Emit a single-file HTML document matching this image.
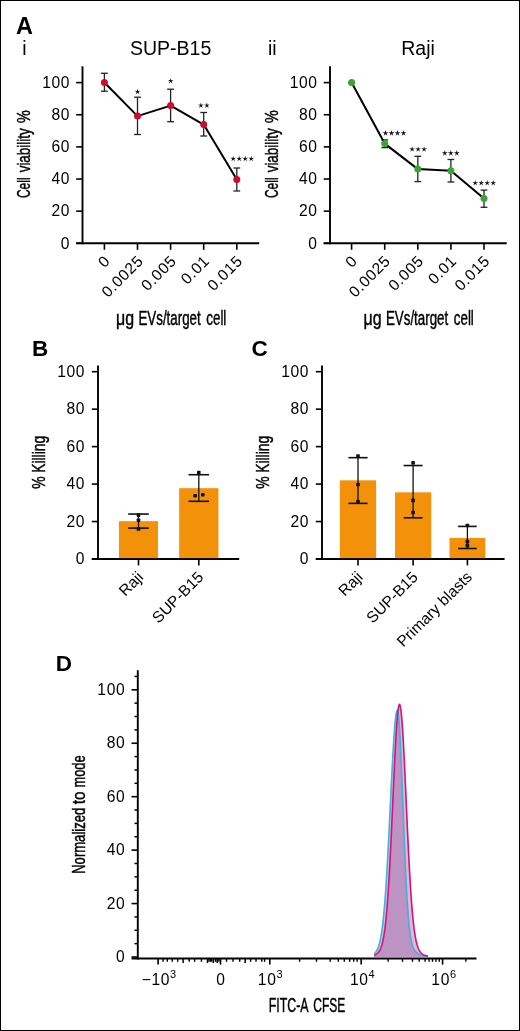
<!DOCTYPE html>
<html><head><meta charset="utf-8"><style>
html,body{margin:0;padding:0;background:#fff;}
.fig{position:relative;width:520px;height:1031px;box-sizing:border-box;border:1px solid #000;background:#fff;overflow:hidden;}
svg{position:absolute;left:-1px;top:-1px;will-change:transform;}
text{font-family:"Liberation Sans", sans-serif;}
</style></head><body><div class="fig">
<svg width="520" height="1031" viewBox="0 0 520 1031">
<text x="15.90" y="33.60" font-size="23.5" text-anchor="start" fill="#000" font-weight="bold" >A</text>
<text x="24.30" y="55.30" font-size="19.5" text-anchor="middle" fill="#000" >i</text>
<text x="170.60" y="55.30" font-size="19.5" text-anchor="middle" fill="#000" >SUP-B15</text>
<text x="272.30" y="55.30" font-size="19.5" text-anchor="middle" fill="#000" >ii</text>
<text x="418.00" y="55.30" font-size="19.5" text-anchor="middle" fill="#000" >Raji</text>
<line x1="82.50" y1="66.30" x2="82.50" y2="244.25" stroke="#000" stroke-width="1.9" stroke-linecap="butt"/>
<line x1="76.20" y1="243.30" x2="259.20" y2="243.30" stroke="#000" stroke-width="1.9" stroke-linecap="butt"/>
<line x1="76.20" y1="243.30" x2="82.50" y2="243.30" stroke="#000" stroke-width="1.6" stroke-linecap="butt"/>
<text x="70.10" y="248.60" font-size="15.6" text-anchor="end" fill="#000" letter-spacing="0.6" >0</text>
<line x1="76.20" y1="211.16" x2="82.50" y2="211.16" stroke="#000" stroke-width="1.6" stroke-linecap="butt"/>
<text x="70.10" y="216.46" font-size="15.6" text-anchor="end" fill="#000" letter-spacing="0.6" >20</text>
<line x1="76.20" y1="179.02" x2="82.50" y2="179.02" stroke="#000" stroke-width="1.6" stroke-linecap="butt"/>
<text x="70.10" y="184.32" font-size="15.6" text-anchor="end" fill="#000" letter-spacing="0.6" >40</text>
<line x1="76.20" y1="146.88" x2="82.50" y2="146.88" stroke="#000" stroke-width="1.6" stroke-linecap="butt"/>
<text x="70.10" y="152.18" font-size="15.6" text-anchor="end" fill="#000" letter-spacing="0.6" >60</text>
<line x1="76.20" y1="114.74" x2="82.50" y2="114.74" stroke="#000" stroke-width="1.6" stroke-linecap="butt"/>
<text x="70.10" y="120.04" font-size="15.6" text-anchor="end" fill="#000" letter-spacing="0.6" >80</text>
<line x1="76.20" y1="82.60" x2="82.50" y2="82.60" stroke="#000" stroke-width="1.6" stroke-linecap="butt"/>
<text x="70.10" y="87.90" font-size="15.6" text-anchor="end" fill="#000" letter-spacing="0.6" >100</text>
<line x1="104.40" y1="243.30" x2="104.40" y2="249.80" stroke="#000" stroke-width="1.6" stroke-linecap="butt"/>
<line x1="137.50" y1="243.30" x2="137.50" y2="249.80" stroke="#000" stroke-width="1.6" stroke-linecap="butt"/>
<line x1="170.60" y1="243.30" x2="170.60" y2="249.80" stroke="#000" stroke-width="1.6" stroke-linecap="butt"/>
<line x1="203.70" y1="243.30" x2="203.70" y2="249.80" stroke="#000" stroke-width="1.6" stroke-linecap="butt"/>
<line x1="236.80" y1="243.30" x2="236.80" y2="249.80" stroke="#000" stroke-width="1.6" stroke-linecap="butt"/>
<text transform="translate(111.10,262.00) rotate(-45)" x="0" y="0" font-size="15.6" text-anchor="end" fill="#000" letter-spacing="0.6" >0</text>
<text transform="translate(144.20,262.00) rotate(-45)" x="0" y="0" font-size="15.6" text-anchor="end" fill="#000" letter-spacing="0.6" >0.0025</text>
<text transform="translate(177.30,262.00) rotate(-45)" x="0" y="0" font-size="15.6" text-anchor="end" fill="#000" letter-spacing="0.6" >0.005</text>
<text transform="translate(210.40,262.00) rotate(-45)" x="0" y="0" font-size="15.6" text-anchor="end" fill="#000" letter-spacing="0.6" >0.01</text>
<text transform="translate(243.50,262.00) rotate(-45)" x="0" y="0" font-size="15.6" text-anchor="end" fill="#000" letter-spacing="0.6" >0.015</text>
<line x1="104.40" y1="73.30" x2="104.40" y2="91.20" stroke="#222" stroke-width="1.3" stroke-linecap="butt"/>
<line x1="101.00" y1="73.30" x2="107.80" y2="73.30" stroke="#222" stroke-width="1.3" stroke-linecap="butt"/>
<line x1="101.00" y1="91.20" x2="107.80" y2="91.20" stroke="#222" stroke-width="1.3" stroke-linecap="butt"/>
<line x1="137.50" y1="97.20" x2="137.50" y2="134.50" stroke="#222" stroke-width="1.3" stroke-linecap="butt"/>
<line x1="134.10" y1="97.20" x2="140.90" y2="97.20" stroke="#222" stroke-width="1.3" stroke-linecap="butt"/>
<line x1="134.10" y1="134.50" x2="140.90" y2="134.50" stroke="#222" stroke-width="1.3" stroke-linecap="butt"/>
<line x1="170.60" y1="89.20" x2="170.60" y2="121.70" stroke="#222" stroke-width="1.3" stroke-linecap="butt"/>
<line x1="167.20" y1="89.20" x2="174.00" y2="89.20" stroke="#222" stroke-width="1.3" stroke-linecap="butt"/>
<line x1="167.20" y1="121.70" x2="174.00" y2="121.70" stroke="#222" stroke-width="1.3" stroke-linecap="butt"/>
<line x1="203.70" y1="112.50" x2="203.70" y2="136.00" stroke="#222" stroke-width="1.3" stroke-linecap="butt"/>
<line x1="200.30" y1="112.50" x2="207.10" y2="112.50" stroke="#222" stroke-width="1.3" stroke-linecap="butt"/>
<line x1="200.30" y1="136.00" x2="207.10" y2="136.00" stroke="#222" stroke-width="1.3" stroke-linecap="butt"/>
<line x1="236.80" y1="168.00" x2="236.80" y2="191.00" stroke="#222" stroke-width="1.3" stroke-linecap="butt"/>
<line x1="233.40" y1="168.00" x2="240.20" y2="168.00" stroke="#222" stroke-width="1.3" stroke-linecap="butt"/>
<line x1="233.40" y1="191.00" x2="240.20" y2="191.00" stroke="#222" stroke-width="1.3" stroke-linecap="butt"/>
<polyline points="104.40,82.50 137.50,116.10 170.60,105.60 203.70,124.60 236.80,179.40" fill="none" stroke="#000" stroke-width="2" stroke-linejoin="round"/>
<circle cx="104.40" cy="82.50" r="3.5" fill="#cf0a2c"/>
<circle cx="137.50" cy="116.10" r="3.5" fill="#cf0a2c"/>
<circle cx="170.60" cy="105.60" r="3.5" fill="#cf0a2c"/>
<circle cx="203.70" cy="124.60" r="3.5" fill="#cf0a2c"/>
<circle cx="236.80" cy="179.40" r="3.5" fill="#cf0a2c"/>
<polygon points="137.50,88.70 138.12,90.95 140.45,90.84 138.50,92.12 139.32,94.31 137.50,92.85 135.68,94.31 136.50,92.12 134.55,90.84 136.88,90.95" fill="#111"/>
<polygon points="170.70,77.90 171.32,80.15 173.65,80.04 171.70,81.32 172.52,83.51 170.70,82.05 168.88,83.51 169.70,81.32 167.75,80.04 170.08,80.15" fill="#111"/>
<polygon points="200.90,102.40 201.52,104.65 203.85,104.54 201.90,105.82 202.72,108.01 200.90,106.55 199.08,108.01 199.90,105.82 197.95,104.54 200.28,104.65" fill="#111"/>
<polygon points="206.90,102.40 207.52,104.65 209.85,104.54 207.90,105.82 208.72,108.01 206.90,106.55 205.08,108.01 205.90,105.82 203.95,104.54 206.28,104.65" fill="#111"/>
<polygon points="233.20,155.70 233.82,157.95 236.15,157.84 234.20,159.12 235.02,161.31 233.20,159.85 231.38,161.31 232.20,159.12 230.25,157.84 232.58,157.95" fill="#111"/>
<polygon points="239.20,155.70 239.82,157.95 242.15,157.84 240.20,159.12 241.02,161.31 239.20,159.85 237.38,161.31 238.20,159.12 236.25,157.84 238.58,157.95" fill="#111"/>
<polygon points="245.20,155.70 245.82,157.95 248.15,157.84 246.20,159.12 247.02,161.31 245.20,159.85 243.38,161.31 244.20,159.12 242.25,157.84 244.58,157.95" fill="#111"/>
<polygon points="251.20,155.70 251.82,157.95 254.15,157.84 252.20,159.12 253.02,161.31 251.20,159.85 249.38,161.31 250.20,159.12 248.25,157.84 250.58,157.95" fill="#111"/>
<text transform="translate(30.30,198.07) rotate(-90)" x="0" y="0" font-size="19" text-anchor="start" fill="#000" textLength="20.66" lengthAdjust="spacingAndGlyphs" stroke="#000" stroke-width="0.45" >Cell</text>
<text transform="translate(30.30,172.34) rotate(-90)" x="0" y="0" font-size="19" text-anchor="start" fill="#000" textLength="44.10" lengthAdjust="spacingAndGlyphs" stroke="#000" stroke-width="0.45" >viability</text>
<text transform="translate(30.30,123.03) rotate(-90)" x="0" y="0" font-size="19" text-anchor="start" fill="#000" textLength="12.79" lengthAdjust="spacingAndGlyphs" stroke="#000" stroke-width="0.45" >%</text>
<text x="115.99" y="324.60" font-size="19.5" text-anchor="start" fill="#000" textLength="18.06" lengthAdjust="spacingAndGlyphs" stroke="#000" stroke-width="0.45" >μg</text>
<text x="138.46" y="324.60" font-size="19.5" text-anchor="start" fill="#000" textLength="62.24" lengthAdjust="spacingAndGlyphs" stroke="#000" stroke-width="0.45" >EVs/target</text>
<text x="206.29" y="324.60" font-size="19.5" text-anchor="start" fill="#000" textLength="20.06" lengthAdjust="spacingAndGlyphs" stroke="#000" stroke-width="0.45" >cell</text>
<line x1="330.00" y1="66.30" x2="330.00" y2="244.25" stroke="#000" stroke-width="1.9" stroke-linecap="butt"/>
<line x1="323.70" y1="243.30" x2="506.70" y2="243.30" stroke="#000" stroke-width="1.9" stroke-linecap="butt"/>
<line x1="323.70" y1="243.30" x2="330.00" y2="243.30" stroke="#000" stroke-width="1.6" stroke-linecap="butt"/>
<text x="317.60" y="248.60" font-size="15.6" text-anchor="end" fill="#000" letter-spacing="0.6" >0</text>
<line x1="323.70" y1="211.16" x2="330.00" y2="211.16" stroke="#000" stroke-width="1.6" stroke-linecap="butt"/>
<text x="317.60" y="216.46" font-size="15.6" text-anchor="end" fill="#000" letter-spacing="0.6" >20</text>
<line x1="323.70" y1="179.02" x2="330.00" y2="179.02" stroke="#000" stroke-width="1.6" stroke-linecap="butt"/>
<text x="317.60" y="184.32" font-size="15.6" text-anchor="end" fill="#000" letter-spacing="0.6" >40</text>
<line x1="323.70" y1="146.88" x2="330.00" y2="146.88" stroke="#000" stroke-width="1.6" stroke-linecap="butt"/>
<text x="317.60" y="152.18" font-size="15.6" text-anchor="end" fill="#000" letter-spacing="0.6" >60</text>
<line x1="323.70" y1="114.74" x2="330.00" y2="114.74" stroke="#000" stroke-width="1.6" stroke-linecap="butt"/>
<text x="317.60" y="120.04" font-size="15.6" text-anchor="end" fill="#000" letter-spacing="0.6" >80</text>
<line x1="323.70" y1="82.60" x2="330.00" y2="82.60" stroke="#000" stroke-width="1.6" stroke-linecap="butt"/>
<text x="317.60" y="87.90" font-size="15.6" text-anchor="end" fill="#000" letter-spacing="0.6" >100</text>
<line x1="351.60" y1="243.30" x2="351.60" y2="249.80" stroke="#000" stroke-width="1.6" stroke-linecap="butt"/>
<line x1="384.70" y1="243.30" x2="384.70" y2="249.80" stroke="#000" stroke-width="1.6" stroke-linecap="butt"/>
<line x1="417.80" y1="243.30" x2="417.80" y2="249.80" stroke="#000" stroke-width="1.6" stroke-linecap="butt"/>
<line x1="450.90" y1="243.30" x2="450.90" y2="249.80" stroke="#000" stroke-width="1.6" stroke-linecap="butt"/>
<line x1="484.00" y1="243.30" x2="484.00" y2="249.80" stroke="#000" stroke-width="1.6" stroke-linecap="butt"/>
<text transform="translate(358.30,262.00) rotate(-45)" x="0" y="0" font-size="15.6" text-anchor="end" fill="#000" letter-spacing="0.6" >0</text>
<text transform="translate(391.40,262.00) rotate(-45)" x="0" y="0" font-size="15.6" text-anchor="end" fill="#000" letter-spacing="0.6" >0.0025</text>
<text transform="translate(424.50,262.00) rotate(-45)" x="0" y="0" font-size="15.6" text-anchor="end" fill="#000" letter-spacing="0.6" >0.005</text>
<text transform="translate(457.60,262.00) rotate(-45)" x="0" y="0" font-size="15.6" text-anchor="end" fill="#000" letter-spacing="0.6" >0.01</text>
<text transform="translate(490.70,262.00) rotate(-45)" x="0" y="0" font-size="15.6" text-anchor="end" fill="#000" letter-spacing="0.6" >0.015</text>
<line x1="351.60" y1="82.60" x2="351.60" y2="82.60" stroke="#222" stroke-width="1.3" stroke-linecap="butt"/>
<line x1="348.20" y1="82.60" x2="355.00" y2="82.60" stroke="#222" stroke-width="1.3" stroke-linecap="butt"/>
<line x1="348.20" y1="82.60" x2="355.00" y2="82.60" stroke="#222" stroke-width="1.3" stroke-linecap="butt"/>
<line x1="384.70" y1="139.90" x2="384.70" y2="147.60" stroke="#222" stroke-width="1.3" stroke-linecap="butt"/>
<line x1="381.30" y1="139.90" x2="388.10" y2="139.90" stroke="#222" stroke-width="1.3" stroke-linecap="butt"/>
<line x1="381.30" y1="147.60" x2="388.10" y2="147.60" stroke="#222" stroke-width="1.3" stroke-linecap="butt"/>
<line x1="417.80" y1="156.30" x2="417.80" y2="181.60" stroke="#222" stroke-width="1.3" stroke-linecap="butt"/>
<line x1="414.40" y1="156.30" x2="421.20" y2="156.30" stroke="#222" stroke-width="1.3" stroke-linecap="butt"/>
<line x1="414.40" y1="181.60" x2="421.20" y2="181.60" stroke="#222" stroke-width="1.3" stroke-linecap="butt"/>
<line x1="450.90" y1="159.50" x2="450.90" y2="182.00" stroke="#222" stroke-width="1.3" stroke-linecap="butt"/>
<line x1="447.50" y1="159.50" x2="454.30" y2="159.50" stroke="#222" stroke-width="1.3" stroke-linecap="butt"/>
<line x1="447.50" y1="182.00" x2="454.30" y2="182.00" stroke="#222" stroke-width="1.3" stroke-linecap="butt"/>
<line x1="484.00" y1="190.10" x2="484.00" y2="207.30" stroke="#222" stroke-width="1.3" stroke-linecap="butt"/>
<line x1="480.60" y1="190.10" x2="487.40" y2="190.10" stroke="#222" stroke-width="1.3" stroke-linecap="butt"/>
<line x1="480.60" y1="207.30" x2="487.40" y2="207.30" stroke="#222" stroke-width="1.3" stroke-linecap="butt"/>
<polyline points="351.60,82.60 384.70,143.60 417.80,169.10 450.90,170.70 484.00,198.50" fill="none" stroke="#000" stroke-width="2" stroke-linejoin="round"/>
<circle cx="351.60" cy="82.60" r="3.5" fill="#3aa535"/>
<circle cx="384.70" cy="143.60" r="3.5" fill="#3aa535"/>
<circle cx="417.80" cy="169.10" r="3.5" fill="#3aa535"/>
<circle cx="450.90" cy="170.70" r="3.5" fill="#3aa535"/>
<circle cx="484.00" cy="198.50" r="3.5" fill="#3aa535"/>
<polygon points="385.50,130.10 386.12,132.35 388.45,132.24 386.50,133.52 387.32,135.71 385.50,134.25 383.68,135.71 384.50,133.52 382.55,132.24 384.88,132.35" fill="#111"/>
<polygon points="391.50,130.10 392.12,132.35 394.45,132.24 392.50,133.52 393.32,135.71 391.50,134.25 389.68,135.71 390.50,133.52 388.55,132.24 390.88,132.35" fill="#111"/>
<polygon points="397.50,130.10 398.12,132.35 400.45,132.24 398.50,133.52 399.32,135.71 397.50,134.25 395.68,135.71 396.50,133.52 394.55,132.24 396.88,132.35" fill="#111"/>
<polygon points="403.50,130.10 404.12,132.35 406.45,132.24 404.50,133.52 405.32,135.71 403.50,134.25 401.68,135.71 402.50,133.52 400.55,132.24 402.88,132.35" fill="#111"/>
<polygon points="412.10,146.20 412.72,148.45 415.05,148.34 413.10,149.62 413.92,151.81 412.10,150.35 410.28,151.81 411.10,149.62 409.15,148.34 411.48,148.45" fill="#111"/>
<polygon points="418.10,146.20 418.72,148.45 421.05,148.34 419.10,149.62 419.92,151.81 418.10,150.35 416.28,151.81 417.10,149.62 415.15,148.34 417.48,148.45" fill="#111"/>
<polygon points="424.10,146.20 424.72,148.45 427.05,148.34 425.10,149.62 425.92,151.81 424.10,150.35 422.28,151.81 423.10,149.62 421.15,148.34 423.48,148.45" fill="#111"/>
<polygon points="444.80,150.10 445.42,152.35 447.75,152.24 445.80,153.52 446.62,155.71 444.80,154.25 442.98,155.71 443.80,153.52 441.85,152.24 444.18,152.35" fill="#111"/>
<polygon points="450.80,150.10 451.42,152.35 453.75,152.24 451.80,153.52 452.62,155.71 450.80,154.25 448.98,155.71 449.80,153.52 447.85,152.24 450.18,152.35" fill="#111"/>
<polygon points="456.80,150.10 457.42,152.35 459.75,152.24 457.80,153.52 458.62,155.71 456.80,154.25 454.98,155.71 455.80,153.52 453.85,152.24 456.18,152.35" fill="#111"/>
<polygon points="475.20,179.90 475.82,182.15 478.15,182.04 476.20,183.32 477.02,185.51 475.20,184.05 473.38,185.51 474.20,183.32 472.25,182.04 474.58,182.15" fill="#111"/>
<polygon points="481.20,179.90 481.82,182.15 484.15,182.04 482.20,183.32 483.02,185.51 481.20,184.05 479.38,185.51 480.20,183.32 478.25,182.04 480.58,182.15" fill="#111"/>
<polygon points="487.20,179.90 487.82,182.15 490.15,182.04 488.20,183.32 489.02,185.51 487.20,184.05 485.38,185.51 486.20,183.32 484.25,182.04 486.58,182.15" fill="#111"/>
<polygon points="493.20,179.90 493.82,182.15 496.15,182.04 494.20,183.32 495.02,185.51 493.20,184.05 491.38,185.51 492.20,183.32 490.25,182.04 492.58,182.15" fill="#111"/>
<text transform="translate(277.80,198.07) rotate(-90)" x="0" y="0" font-size="19" text-anchor="start" fill="#000" textLength="20.66" lengthAdjust="spacingAndGlyphs" stroke="#000" stroke-width="0.45" >Cell</text>
<text transform="translate(277.80,172.34) rotate(-90)" x="0" y="0" font-size="19" text-anchor="start" fill="#000" textLength="44.10" lengthAdjust="spacingAndGlyphs" stroke="#000" stroke-width="0.45" >viability</text>
<text transform="translate(277.80,123.03) rotate(-90)" x="0" y="0" font-size="19" text-anchor="start" fill="#000" textLength="12.79" lengthAdjust="spacingAndGlyphs" stroke="#000" stroke-width="0.45" >%</text>
<text x="363.49" y="324.60" font-size="19.5" text-anchor="start" fill="#000" textLength="18.06" lengthAdjust="spacingAndGlyphs" stroke="#000" stroke-width="0.45" >μg</text>
<text x="385.96" y="324.60" font-size="19.5" text-anchor="start" fill="#000" textLength="62.24" lengthAdjust="spacingAndGlyphs" stroke="#000" stroke-width="0.45" >EVs/target</text>
<text x="453.79" y="324.60" font-size="19.5" text-anchor="start" fill="#000" textLength="20.06" lengthAdjust="spacingAndGlyphs" stroke="#000" stroke-width="0.45" >cell</text>
<line x1="98.00" y1="365.40" x2="98.00" y2="559.95" stroke="#000" stroke-width="1.9" stroke-linecap="butt"/>
<line x1="91.80" y1="559.00" x2="239.20" y2="559.00" stroke="#000" stroke-width="1.9" stroke-linecap="butt"/>
<line x1="91.80" y1="559.00" x2="98.00" y2="559.00" stroke="#000" stroke-width="1.6" stroke-linecap="butt"/>
<text x="85.10" y="564.20" font-size="15.6" text-anchor="end" fill="#000" letter-spacing="0.6" >0</text>
<line x1="91.80" y1="521.54" x2="98.00" y2="521.54" stroke="#000" stroke-width="1.6" stroke-linecap="butt"/>
<text x="85.10" y="526.74" font-size="15.6" text-anchor="end" fill="#000" letter-spacing="0.6" >20</text>
<line x1="91.80" y1="484.08" x2="98.00" y2="484.08" stroke="#000" stroke-width="1.6" stroke-linecap="butt"/>
<text x="85.10" y="489.28" font-size="15.6" text-anchor="end" fill="#000" letter-spacing="0.6" >40</text>
<line x1="91.80" y1="446.62" x2="98.00" y2="446.62" stroke="#000" stroke-width="1.6" stroke-linecap="butt"/>
<text x="85.10" y="451.82" font-size="15.6" text-anchor="end" fill="#000" letter-spacing="0.6" >60</text>
<line x1="91.80" y1="409.16" x2="98.00" y2="409.16" stroke="#000" stroke-width="1.6" stroke-linecap="butt"/>
<text x="85.10" y="414.36" font-size="15.6" text-anchor="end" fill="#000" letter-spacing="0.6" >80</text>
<line x1="91.80" y1="371.70" x2="98.00" y2="371.70" stroke="#000" stroke-width="1.6" stroke-linecap="butt"/>
<text x="85.10" y="376.90" font-size="15.6" text-anchor="end" fill="#000" letter-spacing="0.6" >100</text>
<rect x="119.00" y="521.17" width="39.00" height="36.93" fill="#f4910a"/>
<line x1="138.50" y1="559.00" x2="138.50" y2="565.40" stroke="#000" stroke-width="1.6" stroke-linecap="butt"/>
<line x1="138.50" y1="514.05" x2="138.50" y2="528.10" stroke="#111" stroke-width="1.3" stroke-linecap="butt"/>
<line x1="128.20" y1="514.05" x2="148.80" y2="514.05" stroke="#111" stroke-width="1.6" stroke-linecap="butt"/>
<line x1="128.20" y1="528.10" x2="148.80" y2="528.10" stroke="#111" stroke-width="1.6" stroke-linecap="butt"/>
<rect x="136.70" y="513.37" width="3.6" height="3.6" rx="0.7" fill="#111"/>
<rect x="136.70" y="518.43" width="3.6" height="3.6" rx="0.7" fill="#111"/>
<rect x="136.70" y="527.23" width="3.6" height="3.6" rx="0.7" fill="#111"/>
<rect x="179.15" y="488.20" width="39.30" height="69.90" fill="#f4910a"/>
<line x1="198.80" y1="559.00" x2="198.80" y2="565.40" stroke="#000" stroke-width="1.6" stroke-linecap="butt"/>
<line x1="198.80" y1="474.72" x2="198.80" y2="501.31" stroke="#111" stroke-width="1.3" stroke-linecap="butt"/>
<line x1="188.50" y1="474.72" x2="209.10" y2="474.72" stroke="#111" stroke-width="1.6" stroke-linecap="butt"/>
<line x1="188.50" y1="501.31" x2="209.10" y2="501.31" stroke="#111" stroke-width="1.6" stroke-linecap="butt"/>
<rect x="197.00" y="470.85" width="3.6" height="3.6" rx="0.7" fill="#111"/>
<rect x="193.30" y="493.89" width="3.6" height="3.6" rx="0.7" fill="#111"/>
<rect x="201.00" y="492.96" width="3.6" height="3.6" rx="0.7" fill="#111"/>
<text transform="translate(144.20,578.00) rotate(-45)" x="0" y="0" font-size="15.6" text-anchor="end" fill="#000" >Raji</text>
<text transform="translate(204.50,578.00) rotate(-45)" x="0" y="0" font-size="15.6" text-anchor="end" fill="#000" >SUP-B15</text>
<text x="32.00" y="355.80" font-size="22.5" text-anchor="start" fill="#000" font-weight="bold" >B</text>
<text transform="translate(45.30,488.86) rotate(-90)" x="0" y="0" font-size="17.5" text-anchor="start" fill="#000" textLength="12.42" lengthAdjust="spacingAndGlyphs" stroke="#000" stroke-width="0.45" >%</text>
<text transform="translate(45.30,472.78) rotate(-90)" x="0" y="0" font-size="17.5" text-anchor="start" fill="#000" textLength="36.90" lengthAdjust="spacingAndGlyphs" stroke="#000" stroke-width="0.45" >Killing</text>
<line x1="322.00" y1="365.40" x2="322.00" y2="559.95" stroke="#000" stroke-width="1.9" stroke-linecap="butt"/>
<line x1="315.80" y1="559.00" x2="504.60" y2="559.00" stroke="#000" stroke-width="1.9" stroke-linecap="butt"/>
<line x1="315.80" y1="559.00" x2="322.00" y2="559.00" stroke="#000" stroke-width="1.6" stroke-linecap="butt"/>
<text x="309.10" y="564.20" font-size="15.6" text-anchor="end" fill="#000" letter-spacing="0.6" >0</text>
<line x1="315.80" y1="521.54" x2="322.00" y2="521.54" stroke="#000" stroke-width="1.6" stroke-linecap="butt"/>
<text x="309.10" y="526.74" font-size="15.6" text-anchor="end" fill="#000" letter-spacing="0.6" >20</text>
<line x1="315.80" y1="484.08" x2="322.00" y2="484.08" stroke="#000" stroke-width="1.6" stroke-linecap="butt"/>
<text x="309.10" y="489.28" font-size="15.6" text-anchor="end" fill="#000" letter-spacing="0.6" >40</text>
<line x1="315.80" y1="446.62" x2="322.00" y2="446.62" stroke="#000" stroke-width="1.6" stroke-linecap="butt"/>
<text x="309.10" y="451.82" font-size="15.6" text-anchor="end" fill="#000" letter-spacing="0.6" >60</text>
<line x1="315.80" y1="409.16" x2="322.00" y2="409.16" stroke="#000" stroke-width="1.6" stroke-linecap="butt"/>
<text x="309.10" y="414.36" font-size="15.6" text-anchor="end" fill="#000" letter-spacing="0.6" >80</text>
<line x1="315.80" y1="371.70" x2="322.00" y2="371.70" stroke="#000" stroke-width="1.6" stroke-linecap="butt"/>
<text x="309.10" y="376.90" font-size="15.6" text-anchor="end" fill="#000" letter-spacing="0.6" >100</text>
<rect x="339.85" y="480.33" width="36.30" height="77.77" fill="#f4910a"/>
<line x1="358.00" y1="559.00" x2="358.00" y2="565.40" stroke="#000" stroke-width="1.6" stroke-linecap="butt"/>
<line x1="358.00" y1="457.67" x2="358.00" y2="503.37" stroke="#111" stroke-width="1.3" stroke-linecap="butt"/>
<line x1="348.40" y1="457.67" x2="367.60" y2="457.67" stroke="#111" stroke-width="1.6" stroke-linecap="butt"/>
<line x1="348.40" y1="503.37" x2="367.60" y2="503.37" stroke="#111" stroke-width="1.6" stroke-linecap="butt"/>
<rect x="356.20" y="454.19" width="3.6" height="3.6" rx="0.7" fill="#111"/>
<rect x="356.20" y="482.65" width="3.6" height="3.6" rx="0.7" fill="#111"/>
<rect x="356.20" y="499.70" width="3.6" height="3.6" rx="0.7" fill="#111"/>
<rect x="395.00" y="492.32" width="36.20" height="65.78" fill="#f4910a"/>
<line x1="413.10" y1="559.00" x2="413.10" y2="565.40" stroke="#000" stroke-width="1.6" stroke-linecap="butt"/>
<line x1="413.10" y1="465.54" x2="413.10" y2="517.79" stroke="#111" stroke-width="1.3" stroke-linecap="butt"/>
<line x1="403.60" y1="465.54" x2="422.60" y2="465.54" stroke="#111" stroke-width="1.6" stroke-linecap="butt"/>
<line x1="403.60" y1="517.79" x2="422.60" y2="517.79" stroke="#111" stroke-width="1.6" stroke-linecap="butt"/>
<rect x="411.30" y="461.12" width="3.6" height="3.6" rx="0.7" fill="#111"/>
<rect x="411.30" y="498.58" width="3.6" height="3.6" rx="0.7" fill="#111"/>
<rect x="411.30" y="510.75" width="3.6" height="3.6" rx="0.7" fill="#111"/>
<rect x="449.50" y="538.02" width="35.80" height="20.08" fill="#f4910a"/>
<line x1="467.40" y1="559.00" x2="467.40" y2="565.40" stroke="#000" stroke-width="1.6" stroke-linecap="butt"/>
<line x1="467.40" y1="526.41" x2="467.40" y2="548.51" stroke="#111" stroke-width="1.3" stroke-linecap="butt"/>
<line x1="458.10" y1="526.41" x2="476.70" y2="526.41" stroke="#111" stroke-width="1.6" stroke-linecap="butt"/>
<line x1="458.10" y1="548.51" x2="476.70" y2="548.51" stroke="#111" stroke-width="1.6" stroke-linecap="butt"/>
<rect x="465.60" y="523.67" width="3.6" height="3.6" rx="0.7" fill="#111"/>
<rect x="465.60" y="539.78" width="3.6" height="3.6" rx="0.7" fill="#111"/>
<rect x="465.60" y="543.90" width="3.6" height="3.6" rx="0.7" fill="#111"/>
<text transform="translate(363.70,578.00) rotate(-45)" x="0" y="0" font-size="15.6" text-anchor="end" fill="#000" >Raji</text>
<text transform="translate(418.80,578.00) rotate(-45)" x="0" y="0" font-size="15.6" text-anchor="end" fill="#000" >SUP-B15</text>
<text transform="translate(473.10,578.00) rotate(-45)" x="0" y="0" font-size="15.6" text-anchor="end" fill="#000" >Primary blasts</text>
<text x="251.40" y="355.80" font-size="22.5" text-anchor="start" fill="#000" font-weight="bold" >C</text>
<text transform="translate(269.20,488.86) rotate(-90)" x="0" y="0" font-size="17.5" text-anchor="start" fill="#000" textLength="12.42" lengthAdjust="spacingAndGlyphs" stroke="#000" stroke-width="0.45" >%</text>
<text transform="translate(269.20,472.78) rotate(-90)" x="0" y="0" font-size="17.5" text-anchor="start" fill="#000" textLength="36.90" lengthAdjust="spacingAndGlyphs" stroke="#000" stroke-width="0.45" >Killing</text>
<text x="55.80" y="671.20" font-size="22.5" text-anchor="start" fill="#000" font-weight="bold" >D</text>
<path d="M374.00,955.35 L374.50,955.16 L375.00,954.93 L375.50,954.68 L376.00,954.39 L376.50,954.07 L377.00,953.69 L377.50,953.26 L378.00,952.76 L378.50,952.18 L379.00,951.50 L379.50,950.72 L380.00,949.82 L380.50,948.76 L381.00,947.53 L381.50,946.11 L382.00,944.46 L382.50,942.56 L383.00,940.37 L383.50,937.85 L384.00,934.98 L384.50,931.70 L385.00,928.00 L385.50,923.82 L386.00,919.14 L386.50,913.92 L387.00,908.14 L387.50,901.78 L388.00,894.82 L388.50,887.26 L389.00,879.10 L389.50,870.37 L390.00,861.09 L390.50,851.31 L391.00,841.08 L391.50,830.48 L392.00,819.59 L392.50,808.50 L393.00,797.35 L393.50,786.23 L394.00,775.29 L394.50,764.67 L395.00,754.50 L395.50,744.93 L396.00,736.10 L396.50,728.14 L397.00,721.17 L397.50,715.30 L398.00,710.63 L398.50,707.24 L399.00,705.19 L399.50,704.50 L400.00,705.19 L400.50,707.24 L401.00,710.63 L401.50,715.30 L402.00,721.17 L402.50,728.14 L403.00,736.10 L403.50,744.93 L404.00,754.50 L404.50,764.67 L405.00,775.29 L405.50,786.23 L406.00,797.35 L406.50,808.50 L407.00,819.59 L407.50,830.48 L408.00,841.08 L408.50,851.31 L409.00,861.09 L409.50,870.37 L410.00,879.10 L410.50,887.26 L411.00,894.82 L411.50,901.78 L412.00,908.14 L412.50,913.92 L413.00,919.14 L413.50,923.82 L414.00,928.00 L414.50,931.70 L415.00,934.98 L415.50,937.85 L416.00,940.37 L416.50,942.56 L417.00,944.46 L417.50,946.11 L418.00,947.53 L418.50,948.76 L419.00,949.82 L419.50,950.72 L420.00,951.50 L420.50,952.18 L421.00,952.76 L421.50,953.26 L422.00,953.69 L422.50,954.07 L423.00,954.39 L423.50,954.68 L424.00,954.93 L424.50,955.16 L425.00,955.35 L425.50,955.53 L426.00,955.68 L426.50,955.82 L427.00,955.95 L427.50,956.06 L428.00,956.16 L428.00,957.00 L374.00,957.00 Z" fill="rgb(230,182,214)" stroke="none"/>
<path d="M374.00,953.92 L374.50,953.50 L375.00,953.02 L375.50,952.46 L376.00,951.81 L376.50,951.06 L377.00,950.19 L377.50,949.17 L378.00,948.00 L378.50,946.65 L379.00,945.09 L379.50,943.31 L380.00,941.26 L380.50,938.92 L381.00,936.26 L381.50,933.25 L382.00,929.86 L382.50,926.06 L383.00,921.82 L383.50,917.11 L384.00,911.91 L384.50,906.21 L385.00,899.98 L385.50,893.23 L386.00,885.95 L386.50,878.15 L387.00,869.86 L387.50,861.09 L388.00,851.90 L388.50,842.33 L389.00,832.44 L389.50,822.31 L390.00,812.02 L390.50,801.67 L391.00,791.35 L391.50,781.18 L392.00,771.26 L392.50,761.72 L393.00,752.67 L393.50,744.23 L394.00,736.51 L394.50,729.62 L395.00,723.65 L395.50,718.69 L396.00,714.80 L396.50,712.06 L397.00,710.49 L397.50,710.15 L398.00,711.55 L398.50,714.93 L399.00,720.21 L399.50,727.23 L400.00,735.85 L400.50,745.85 L401.00,757.00 L401.50,769.06 L402.00,781.78 L402.50,794.89 L403.00,808.16 L403.50,821.37 L404.00,834.30 L404.50,846.79 L405.00,858.68 L405.50,869.86 L406.00,880.25 L406.50,889.79 L407.00,898.45 L407.50,906.24 L408.00,913.17 L408.50,919.28 L409.00,924.62 L409.50,929.24 L410.00,933.21 L410.50,936.60 L411.00,939.47 L411.50,941.90 L412.00,943.93 L412.50,945.64 L413.00,947.06 L413.50,948.25 L414.00,949.25 L414.50,950.09 L415.00,950.80 L415.50,951.41 L416.00,951.93 L416.50,952.38 L417.00,952.78 L417.50,953.13 L418.00,953.45 L418.50,953.73 L419.00,953.99 L419.50,954.23 L420.00,954.45 L420.50,954.65 L421.00,954.84 L421.50,955.02 L422.00,955.18 L422.50,955.33 L423.00,955.47 L423.50,955.61 L424.00,955.73 L424.50,955.84 L425.00,955.95 L425.50,956.04 L426.00,956.13 L426.50,956.22 L427.00,956.29 L427.50,956.36 L428.00,956.43 L428.00,957.00 L374.00,957.00 Z" fill="rgb(110,80,160)" fill-opacity="0.34" stroke="none"/>
<path d="M374.00,953.92 L374.50,953.50 L375.00,953.02 L375.50,952.46 L376.00,951.81 L376.50,951.06 L377.00,950.19 L377.50,949.17 L378.00,948.00 L378.50,946.65 L379.00,945.09 L379.50,943.31 L380.00,941.26 L380.50,938.92 L381.00,936.26 L381.50,933.25 L382.00,929.86 L382.50,926.06 L383.00,921.82 L383.50,917.11 L384.00,911.91 L384.50,906.21 L385.00,899.98 L385.50,893.23 L386.00,885.95 L386.50,878.15 L387.00,869.86 L387.50,861.09 L388.00,851.90 L388.50,842.33 L389.00,832.44 L389.50,822.31 L390.00,812.02 L390.50,801.67 L391.00,791.35 L391.50,781.18 L392.00,771.26 L392.50,761.72 L393.00,752.67 L393.50,744.23 L394.00,736.51 L394.50,729.62 L395.00,723.65 L395.50,718.69 L396.00,714.80 L396.50,712.06 L397.00,710.49 L397.50,710.15 L398.00,711.55 L398.50,714.93 L399.00,720.21 L399.50,727.23 L400.00,735.85 L400.50,745.85 L401.00,757.00 L401.50,769.06 L402.00,781.78 L402.50,794.89 L403.00,808.16 L403.50,821.37 L404.00,834.30 L404.50,846.79 L405.00,858.68 L405.50,869.86 L406.00,880.25 L406.50,889.79 L407.00,898.45 L407.50,906.24 L408.00,913.17 L408.50,919.28 L409.00,924.62 L409.50,929.24 L410.00,933.21 L410.50,936.60 L411.00,939.47 L411.50,941.90 L412.00,943.93 L412.50,945.64 L413.00,947.06 L413.50,948.25 L414.00,949.25 L414.50,950.09 L415.00,950.80 L415.50,951.41 L416.00,951.93 L416.50,952.38 L417.00,952.78 L417.50,953.13 L418.00,953.45 L418.50,953.73 L419.00,953.99 L419.50,954.23 L420.00,954.45 L420.50,954.65 L421.00,954.84 L421.50,955.02 L422.00,955.18 L422.50,955.33 L423.00,955.47 L423.50,955.61 L424.00,955.73 L424.50,955.84 L425.00,955.95 L425.50,956.04 L426.00,956.13 L426.50,956.22 L427.00,956.29 L427.50,956.36 L428.00,956.43" fill="none" stroke="#3cb2dc" stroke-width="1.6"/>
<path d="M374.00,955.35 L374.50,955.16 L375.00,954.93 L375.50,954.68 L376.00,954.39 L376.50,954.07 L377.00,953.69 L377.50,953.26 L378.00,952.76 L378.50,952.18 L379.00,951.50 L379.50,950.72 L380.00,949.82 L380.50,948.76 L381.00,947.53 L381.50,946.11 L382.00,944.46 L382.50,942.56 L383.00,940.37 L383.50,937.85 L384.00,934.98 L384.50,931.70 L385.00,928.00 L385.50,923.82 L386.00,919.14 L386.50,913.92 L387.00,908.14 L387.50,901.78 L388.00,894.82 L388.50,887.26 L389.00,879.10 L389.50,870.37 L390.00,861.09 L390.50,851.31 L391.00,841.08 L391.50,830.48 L392.00,819.59 L392.50,808.50 L393.00,797.35 L393.50,786.23 L394.00,775.29 L394.50,764.67 L395.00,754.50 L395.50,744.93 L396.00,736.10 L396.50,728.14 L397.00,721.17 L397.50,715.30 L398.00,710.63 L398.50,707.24 L399.00,705.19 L399.50,704.50 L400.00,705.19 L400.50,707.24 L401.00,710.63 L401.50,715.30 L402.00,721.17 L402.50,728.14 L403.00,736.10 L403.50,744.93 L404.00,754.50 L404.50,764.67 L405.00,775.29 L405.50,786.23 L406.00,797.35 L406.50,808.50 L407.00,819.59 L407.50,830.48 L408.00,841.08 L408.50,851.31 L409.00,861.09 L409.50,870.37 L410.00,879.10 L410.50,887.26 L411.00,894.82 L411.50,901.78 L412.00,908.14 L412.50,913.92 L413.00,919.14 L413.50,923.82 L414.00,928.00 L414.50,931.70 L415.00,934.98 L415.50,937.85 L416.00,940.37 L416.50,942.56 L417.00,944.46 L417.50,946.11 L418.00,947.53 L418.50,948.76 L419.00,949.82 L419.50,950.72 L420.00,951.50 L420.50,952.18 L421.00,952.76 L421.50,953.26 L422.00,953.69 L422.50,954.07 L423.00,954.39 L423.50,954.68 L424.00,954.93 L424.50,955.16 L425.00,955.35 L425.50,955.53 L426.00,955.68 L426.50,955.82 L427.00,955.95 L427.50,956.06 L428.00,956.16" fill="none" stroke="#d6137c" stroke-width="1.6"/>
<line x1="137.80" y1="670.30" x2="137.80" y2="959.40" stroke="#000" stroke-width="1.9" stroke-linecap="butt"/>
<line x1="131.60" y1="958.50" x2="476.50" y2="958.50" stroke="#000" stroke-width="1.9" stroke-linecap="butt"/>
<line x1="131.50" y1="957.00" x2="137.80" y2="957.00" stroke="#000" stroke-width="1.6" stroke-linecap="butt"/>
<text x="125.20" y="962.10" font-size="15.6" text-anchor="end" fill="#000" letter-spacing="0.6" >0</text>
<line x1="134.50" y1="943.64" x2="137.80" y2="943.64" stroke="#000" stroke-width="1.5" stroke-linecap="butt"/>
<line x1="134.50" y1="930.28" x2="137.80" y2="930.28" stroke="#000" stroke-width="1.5" stroke-linecap="butt"/>
<line x1="134.50" y1="916.92" x2="137.80" y2="916.92" stroke="#000" stroke-width="1.5" stroke-linecap="butt"/>
<line x1="131.50" y1="903.56" x2="137.80" y2="903.56" stroke="#000" stroke-width="1.6" stroke-linecap="butt"/>
<text x="125.20" y="908.66" font-size="15.6" text-anchor="end" fill="#000" letter-spacing="0.6" >20</text>
<line x1="134.50" y1="890.20" x2="137.80" y2="890.20" stroke="#000" stroke-width="1.5" stroke-linecap="butt"/>
<line x1="134.50" y1="876.84" x2="137.80" y2="876.84" stroke="#000" stroke-width="1.5" stroke-linecap="butt"/>
<line x1="134.50" y1="863.48" x2="137.80" y2="863.48" stroke="#000" stroke-width="1.5" stroke-linecap="butt"/>
<line x1="131.50" y1="850.12" x2="137.80" y2="850.12" stroke="#000" stroke-width="1.6" stroke-linecap="butt"/>
<text x="125.20" y="855.22" font-size="15.6" text-anchor="end" fill="#000" letter-spacing="0.6" >40</text>
<line x1="134.50" y1="836.76" x2="137.80" y2="836.76" stroke="#000" stroke-width="1.5" stroke-linecap="butt"/>
<line x1="134.50" y1="823.40" x2="137.80" y2="823.40" stroke="#000" stroke-width="1.5" stroke-linecap="butt"/>
<line x1="134.50" y1="810.04" x2="137.80" y2="810.04" stroke="#000" stroke-width="1.5" stroke-linecap="butt"/>
<line x1="131.50" y1="796.68" x2="137.80" y2="796.68" stroke="#000" stroke-width="1.6" stroke-linecap="butt"/>
<text x="125.20" y="801.78" font-size="15.6" text-anchor="end" fill="#000" letter-spacing="0.6" >60</text>
<line x1="134.50" y1="783.32" x2="137.80" y2="783.32" stroke="#000" stroke-width="1.5" stroke-linecap="butt"/>
<line x1="134.50" y1="769.96" x2="137.80" y2="769.96" stroke="#000" stroke-width="1.5" stroke-linecap="butt"/>
<line x1="134.50" y1="756.60" x2="137.80" y2="756.60" stroke="#000" stroke-width="1.5" stroke-linecap="butt"/>
<line x1="131.50" y1="743.24" x2="137.80" y2="743.24" stroke="#000" stroke-width="1.6" stroke-linecap="butt"/>
<text x="125.20" y="748.34" font-size="15.6" text-anchor="end" fill="#000" letter-spacing="0.6" >80</text>
<line x1="134.50" y1="729.88" x2="137.80" y2="729.88" stroke="#000" stroke-width="1.5" stroke-linecap="butt"/>
<line x1="134.50" y1="716.52" x2="137.80" y2="716.52" stroke="#000" stroke-width="1.5" stroke-linecap="butt"/>
<line x1="134.50" y1="703.16" x2="137.80" y2="703.16" stroke="#000" stroke-width="1.5" stroke-linecap="butt"/>
<line x1="131.50" y1="689.80" x2="137.80" y2="689.80" stroke="#000" stroke-width="1.6" stroke-linecap="butt"/>
<text x="125.20" y="694.90" font-size="15.6" text-anchor="end" fill="#000" letter-spacing="0.6" >100</text>
<line x1="134.50" y1="676.44" x2="137.80" y2="676.44" stroke="#000" stroke-width="1.5" stroke-linecap="butt"/>
<line x1="158.10" y1="958.50" x2="158.10" y2="964.60" stroke="#000" stroke-width="1.6" stroke-linecap="butt"/>
<line x1="220.50" y1="958.50" x2="220.50" y2="964.60" stroke="#000" stroke-width="1.6" stroke-linecap="butt"/>
<line x1="269.80" y1="958.50" x2="269.80" y2="964.60" stroke="#000" stroke-width="1.6" stroke-linecap="butt"/>
<line x1="361.20" y1="958.50" x2="361.20" y2="964.60" stroke="#000" stroke-width="1.6" stroke-linecap="butt"/>
<line x1="442.60" y1="958.50" x2="442.60" y2="964.60" stroke="#000" stroke-width="1.6" stroke-linecap="butt"/>
<line x1="183.10" y1="958.50" x2="183.10" y2="963.00" stroke="#000" stroke-width="1.5" stroke-linecap="butt"/>
<line x1="207.50" y1="958.50" x2="207.50" y2="963.00" stroke="#000" stroke-width="1.5" stroke-linecap="butt"/>
<line x1="213.30" y1="958.50" x2="213.30" y2="963.00" stroke="#000" stroke-width="1.5" stroke-linecap="butt"/>
<line x1="217.30" y1="958.50" x2="217.30" y2="963.00" stroke="#000" stroke-width="1.5" stroke-linecap="butt"/>
<line x1="245.20" y1="958.50" x2="245.20" y2="963.00" stroke="#000" stroke-width="1.5" stroke-linecap="butt"/>
<line x1="209.00" y1="958.50" x2="209.00" y2="961.80" stroke="#000" stroke-width="1.4" stroke-linecap="butt"/>
<line x1="211.70" y1="958.50" x2="211.70" y2="961.80" stroke="#000" stroke-width="1.4" stroke-linecap="butt"/>
<line x1="215.40" y1="958.50" x2="215.40" y2="961.80" stroke="#000" stroke-width="1.4" stroke-linecap="butt"/>
<line x1="218.90" y1="958.50" x2="218.90" y2="961.80" stroke="#000" stroke-width="1.4" stroke-linecap="butt"/>
<line x1="163.10" y1="958.50" x2="163.10" y2="961.80" stroke="#000" stroke-width="1.4" stroke-linecap="butt"/>
<line x1="167.30" y1="958.50" x2="167.30" y2="961.80" stroke="#000" stroke-width="1.4" stroke-linecap="butt"/>
<line x1="172.30" y1="958.50" x2="172.30" y2="961.80" stroke="#000" stroke-width="1.4" stroke-linecap="butt"/>
<line x1="177.70" y1="958.50" x2="177.70" y2="961.80" stroke="#000" stroke-width="1.4" stroke-linecap="butt"/>
<line x1="189.20" y1="958.50" x2="189.20" y2="961.80" stroke="#000" stroke-width="1.4" stroke-linecap="butt"/>
<line x1="194.60" y1="958.50" x2="194.60" y2="961.80" stroke="#000" stroke-width="1.4" stroke-linecap="butt"/>
<line x1="201.40" y1="958.50" x2="201.40" y2="961.80" stroke="#000" stroke-width="1.4" stroke-linecap="butt"/>
<line x1="210.40" y1="958.50" x2="210.40" y2="961.80" stroke="#000" stroke-width="1.4" stroke-linecap="butt"/>
<line x1="217.30" y1="958.50" x2="217.30" y2="961.80" stroke="#000" stroke-width="1.4" stroke-linecap="butt"/>
<line x1="226.50" y1="958.50" x2="226.50" y2="961.80" stroke="#000" stroke-width="1.4" stroke-linecap="butt"/>
<line x1="233.00" y1="958.50" x2="233.00" y2="961.80" stroke="#000" stroke-width="1.4" stroke-linecap="butt"/>
<line x1="239.70" y1="958.50" x2="239.70" y2="961.80" stroke="#000" stroke-width="1.4" stroke-linecap="butt"/>
<line x1="250.60" y1="958.50" x2="250.60" y2="961.80" stroke="#000" stroke-width="1.4" stroke-linecap="butt"/>
<line x1="256.00" y1="958.50" x2="256.00" y2="961.80" stroke="#000" stroke-width="1.4" stroke-linecap="butt"/>
<line x1="261.80" y1="958.50" x2="261.80" y2="961.80" stroke="#000" stroke-width="1.4" stroke-linecap="butt"/>
<line x1="264.60" y1="958.50" x2="264.60" y2="961.80" stroke="#000" stroke-width="1.4" stroke-linecap="butt"/>
<line x1="299.60" y1="958.50" x2="299.60" y2="961.80" stroke="#000" stroke-width="1.4" stroke-linecap="butt"/>
<line x1="316.50" y1="958.50" x2="316.50" y2="961.80" stroke="#000" stroke-width="1.4" stroke-linecap="butt"/>
<line x1="330.20" y1="958.50" x2="330.20" y2="961.80" stroke="#000" stroke-width="1.4" stroke-linecap="butt"/>
<line x1="338.30" y1="958.50" x2="338.30" y2="961.80" stroke="#000" stroke-width="1.4" stroke-linecap="butt"/>
<line x1="344.30" y1="958.50" x2="344.30" y2="961.80" stroke="#000" stroke-width="1.4" stroke-linecap="butt"/>
<line x1="349.70" y1="958.50" x2="349.70" y2="961.80" stroke="#000" stroke-width="1.4" stroke-linecap="butt"/>
<line x1="353.70" y1="958.50" x2="353.70" y2="961.80" stroke="#000" stroke-width="1.4" stroke-linecap="butt"/>
<line x1="357.10" y1="958.50" x2="357.10" y2="961.80" stroke="#000" stroke-width="1.4" stroke-linecap="butt"/>
<line x1="388.10" y1="958.50" x2="388.10" y2="961.80" stroke="#000" stroke-width="1.4" stroke-linecap="butt"/>
<line x1="402.50" y1="958.50" x2="402.50" y2="961.80" stroke="#000" stroke-width="1.4" stroke-linecap="butt"/>
<line x1="412.50" y1="958.50" x2="412.50" y2="961.80" stroke="#000" stroke-width="1.4" stroke-linecap="butt"/>
<line x1="419.20" y1="958.50" x2="419.20" y2="961.80" stroke="#000" stroke-width="1.4" stroke-linecap="butt"/>
<line x1="425.10" y1="958.50" x2="425.10" y2="961.80" stroke="#000" stroke-width="1.4" stroke-linecap="butt"/>
<line x1="429.10" y1="958.50" x2="429.10" y2="961.80" stroke="#000" stroke-width="1.4" stroke-linecap="butt"/>
<line x1="432.50" y1="958.50" x2="432.50" y2="961.80" stroke="#000" stroke-width="1.4" stroke-linecap="butt"/>
<line x1="435.90" y1="958.50" x2="435.90" y2="961.80" stroke="#000" stroke-width="1.4" stroke-linecap="butt"/>
<line x1="439.20" y1="958.50" x2="439.20" y2="961.80" stroke="#000" stroke-width="1.4" stroke-linecap="butt"/>
<line x1="465.90" y1="958.50" x2="465.90" y2="961.80" stroke="#000" stroke-width="1.4" stroke-linecap="butt"/>
<text x="159.20" y="984.8" font-size="15.6" letter-spacing="0.6" text-anchor="middle" fill="#000">&#8722;10<tspan font-size="11" dy="-6.5">3</tspan></text>
<text x="220.50" y="984.80" font-size="15.6" text-anchor="middle" fill="#000" >0</text>
<text x="270.50" y="984.8" font-size="15.6" letter-spacing="0.6" text-anchor="middle" fill="#000">10<tspan font-size="11" dy="-6.5">3</tspan></text>
<text x="362.70" y="984.8" font-size="15.6" letter-spacing="0.6" text-anchor="middle" fill="#000">10<tspan font-size="11" dy="-6.5">4</tspan></text>
<text x="444.00" y="984.8" font-size="15.6" letter-spacing="0.6" text-anchor="middle" fill="#000">10<tspan font-size="11" dy="-6.5">6</tspan></text>
<text x="268.84" y="1012.00" font-size="19.5" text-anchor="start" fill="#000" textLength="39.76" lengthAdjust="spacingAndGlyphs" stroke="#000" stroke-width="0.45" >FITC-A</text>
<text x="313.32" y="1012.00" font-size="19.5" text-anchor="start" fill="#000" textLength="32.06" lengthAdjust="spacingAndGlyphs" stroke="#000" stroke-width="0.45" >CFSE</text>
<text transform="translate(85.00,873.82) rotate(-90)" x="0" y="0" font-size="18" text-anchor="start" fill="#000" textLength="66.08" lengthAdjust="spacingAndGlyphs" stroke="#000" stroke-width="0.45" >Normalized</text>
<text transform="translate(85.00,804.30) rotate(-90)" x="0" y="0" font-size="18" text-anchor="start" fill="#000" textLength="12.67" lengthAdjust="spacingAndGlyphs" stroke="#000" stroke-width="0.45" >to</text>
<text transform="translate(85.00,787.51) rotate(-90)" x="0" y="0" font-size="18" text-anchor="start" fill="#000" textLength="32.19" lengthAdjust="spacingAndGlyphs" stroke="#000" stroke-width="0.45" >mode</text>
</svg></div></body></html>
